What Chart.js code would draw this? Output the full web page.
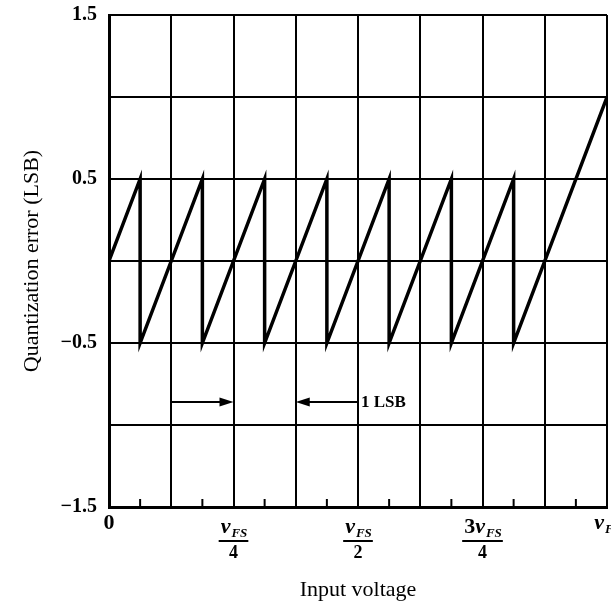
<!DOCTYPE html>
<html>
<head>
<meta charset="utf-8">
<script src="https://cdn.jsdelivr.net/npm/chart.js@4.4.0/dist/chart.umd.min.js"></script>
<style>
  html, body { margin: 0; padding: 0; background: #fff; }
</style>
</head>
<body>
<canvas id="qchart" width="611" height="605"></canvas>
<script>
// input voltage in LSB steps (8 steps = vFS), quantization error in LSB
var vin  = [0, 0.5, 0.5, 1.5, 1.5, 2.5, 2.5, 3.5, 3.5, 4.5, 4.5, 5.5, 5.5, 6.5, 6.5, 8];
var qerr = [0, 0.5, -0.5, 0.5, -0.5, 0.5, -0.5, 0.5, -0.5, 0.5, -0.5, 0.5, -0.5, 0.5, -0.5, 1.0];

var yTickVals = [1.5, 0.5, -0.5, -1.5];
var yTickText = ['1.5', '0.5', '\u22120.5', '\u22121.5'];

var xTickVals = [0, 2, 4, 6, 8];
var xTickLead = ['0', '', '', '3', ''];    // plain part of the label
var xTickVar  = [false, true, true, true, true];   // has v_FS
var xTickDen  = ['', '4', '2', '4', ''];   // denominator

var minorX = [0.5, 1.5, 2.5, 3.5, 4.5, 5.5, 6.5, 7.5];

var lsbY = -0.86;
var lsbArrows = [[1, 2], [4, 3]];   // [from, to]
var lsbText = '1 LSB';

var serif = "'Liberation Serif', 'DejaVu Serif', serif";

function drawArrow(ctx, x1, x2, y) {
  var dir = x2 > x1 ? 1 : -1;
  ctx.beginPath();
  ctx.moveTo(x1, y);
  ctx.lineTo(x2 - dir * 10, y);
  ctx.stroke();
  ctx.beginPath();
  ctx.moveTo(x2, y);
  ctx.lineTo(x2 - dir * 14, y - 4.5);
  ctx.lineTo(x2 - dir * 14, y + 4.5);
  ctx.closePath();
  ctx.fill();
}

var extras = {
  id: 'extras',
  afterDraw: function(chart) {
    var ctx = chart.ctx;
    var xs = chart.scales.x, ys = chart.scales.y;
    var bottom = chart.chartArea.bottom;
    ctx.save();
    ctx.strokeStyle = '#000';
    ctx.fillStyle = '#000';

    // minor ticks on the input axis
    ctx.lineWidth = 2;
    minorX.forEach(function(v) {
      var px = xs.getPixelForValue(v);
      ctx.beginPath();
      ctx.moveTo(px, bottom);
      ctx.lineTo(px, bottom - 8);
      ctx.stroke();
    });

    // x tick labels (fractions of vFS)
    ctx.textBaseline = 'alphabetic';
    xTickVals.forEach(function(v, i) {
      var cx = xs.getPixelForValue(v);
      var big = 'bold italic 22px ' + serif;
      var sub = 'bold italic 13px ' + serif;
      var lead = 'bold 22px ' + serif;
      ctx.font = lead; var wl = ctx.measureText(xTickLead[i]).width;
      var wv = 0, ws = 0;
      if (xTickVar[i]) {
        ctx.font = big; wv = ctx.measureText('v').width;
        ctx.font = sub; ws = ctx.measureText('FS').width;
      }
      var w = wl + wv + ws;
      var x0 = cx - w / 2;
      var base = xTickDen[i] ? 533 : 529;
      ctx.textAlign = 'left';
      ctx.font = lead; ctx.fillText(xTickLead[i], x0, base);
      if (xTickVar[i]) {
        ctx.font = big; ctx.fillText('v', x0 + wl, base);
        ctx.font = sub; ctx.fillText('FS', x0 + wl + wv + 1, base + 4);
      }
      if (xTickDen[i]) {
        ctx.fillRect(cx - w / 2 - 2, 540, w + 4, 2);
        ctx.font = 'bold 18px ' + serif;
        ctx.textAlign = 'center';
        ctx.fillText(xTickDen[i], cx, 558);
      }
    });

    // 1 LSB arrows
    var ay = ys.getPixelForValue(lsbY);
    ctx.lineWidth = 2;
    lsbArrows.forEach(function(a) {
      drawArrow(ctx, xs.getPixelForValue(a[0]), xs.getPixelForValue(a[1]), ay);
    });
    ctx.font = 'bold 17px ' + serif;
    ctx.textAlign = 'left';
    ctx.textBaseline = 'middle';
    ctx.fillText(lsbText, xs.getPixelForValue(lsbArrows[1][0]) + 3, ay + 1);
    ctx.restore();
  }
};

new Chart('qchart', {
  type: 'scatter',
  data: {
    datasets: [{
      data: vin.map(function(x, i) { return {x: x, y: qerr[i]}; }),
      showLine: true,
      borderColor: '#000',
      borderWidth: 3.5,
      pointRadius: 0,
      tension: 0
    }]
  },
  options: {
    responsive: false,
    animation: false,
    layout: { padding: { top: 15, right: 4, left: 0, bottom: 0 } },
    plugins: { legend: { display: false }, tooltip: { enabled: false } },
    scales: {
      x: {
        type: 'linear',
        min: 0,
        max: 8,
        ticks: { stepSize: 1, display: false },
        grid: { color: '#000', lineWidth: 2, drawTicks: false },
        border: { color: '#000', width: 3 },
        title: {
          display: true,
          text: 'Input voltage',
          color: '#000',
          font: { family: serif, size: 22 },
          padding: { top: 0, bottom: 2 }
        },
        afterFit: function(s) { s.height = 98; s.paddingLeft = 0; s.paddingRight = 0; }
      },
      y: {
        type: 'linear',
        min: -1.5,
        max: 1.5,
        ticks: {
          stepSize: 0.5,
          color: '#000',
          padding: 12,
          font: { family: serif, size: 20, weight: 'bold' },
          callback: function(v) {
            var i = yTickVals.indexOf(v);
            return i < 0 ? '' : yTickText[i];
          }
        },
        grid: { color: '#000', lineWidth: 2, drawTicks: false },
        border: { color: '#000', width: 3 },
        title: {
          display: true,
          text: 'Quantization error (LSB)',
          color: '#000',
          font: { family: serif, size: 22 },
          padding: { top: 19, bottom: 0 }
        },
        afterFit: function(s) { s.width = 109; s.paddingTop = 0; s.paddingBottom = 0; }
      }
    }
  },
  plugins: [extras]
});
</script>
</body>
</html>
